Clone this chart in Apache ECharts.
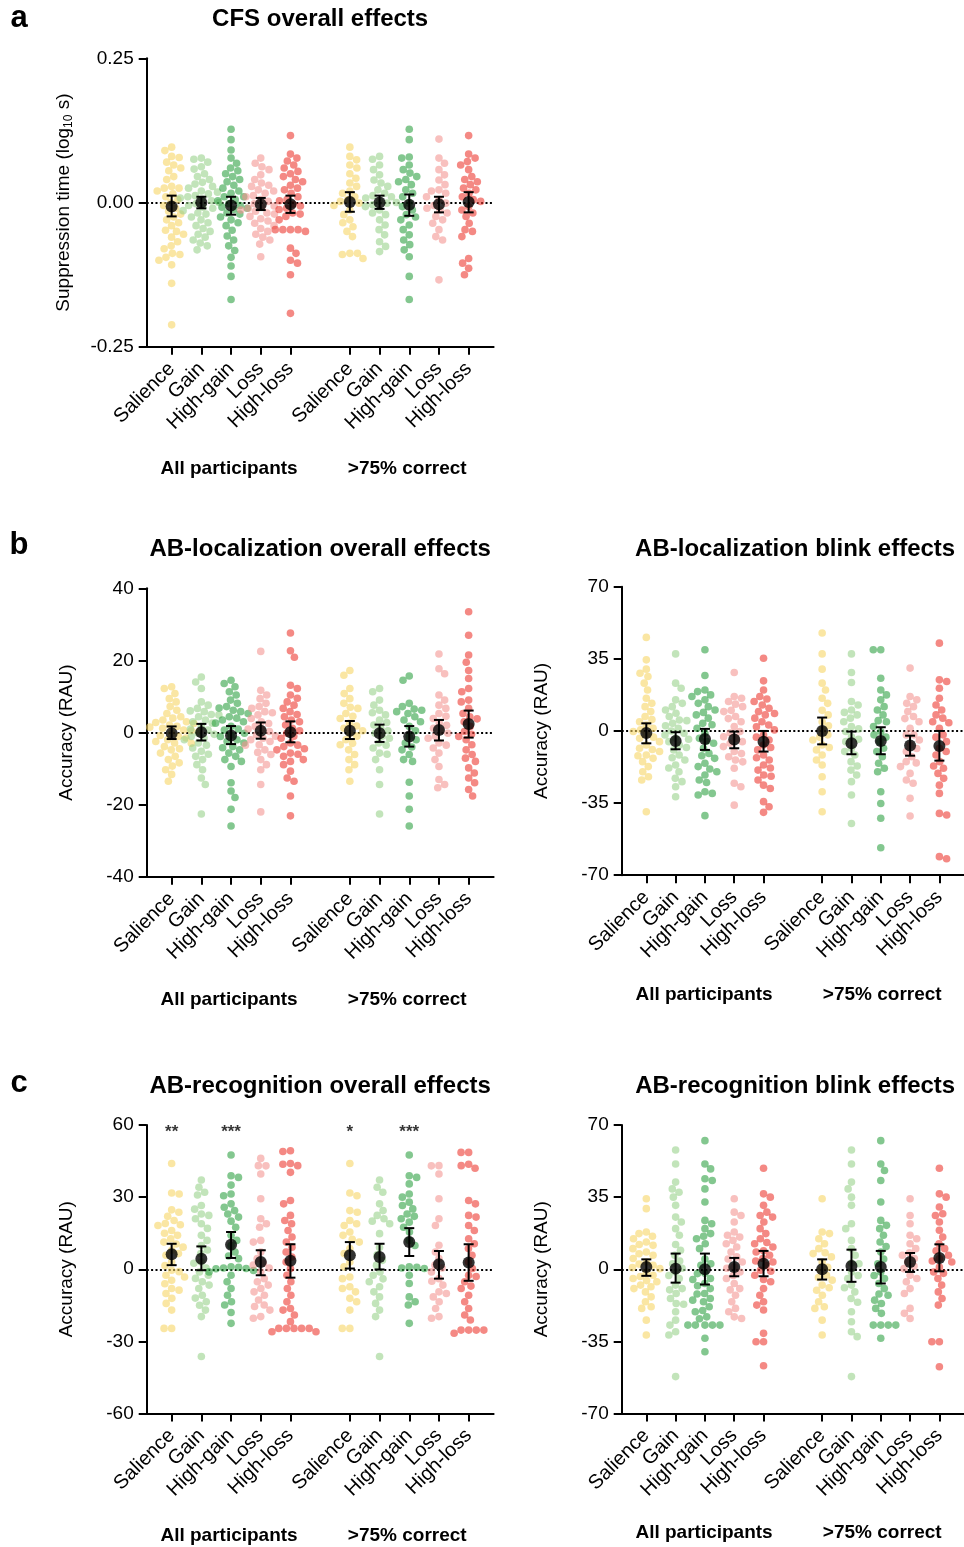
<!DOCTYPE html>
<html>
<head>
<meta charset="utf-8">
<script src="https://cdn.jsdelivr.net/npm/echarts@6/dist/echarts.min.js"></script>
<style>
html, body { margin: 0; padding: 0; background: #fff; }
#chart { width: 964px; height: 1547px; }
</style>
</head>
<body>
<div id="chart"></div>
<script>
// categories and groups
const categories = ['Salience', 'Gain', 'High-gain', 'Loss', 'High-loss'];
const groups = ['All participants', '>75% correct'];
const slots = [0, 1, 2, 3, 4, 6, 7, 8, 9, 10];

// a: CFS overall effects (log10 s)
const cfsPoints = [
  [0.096,0.09,0.08,0.078,0.07,0.065,0.06,0.055,0.045,0.04,0.028,0.025,0.025,0.02,0.015,0.01,0.005,0.0,-0.005,-0.01,-0.015,-0.02,-0.025,-0.03,-0.035,-0.04,-0.048,-0.05,-0.055,-0.06,-0.068,-0.075,-0.08,-0.088,-0.09,-0.095,-0.1,-0.108,-0.14,-0.212],
  [0.077,0.075,0.07,0.062,0.058,0.05,0.045,0.04,0.035,0.032,0.028,0.025,0.02,0.018,0.015,0.012,0.01,0.006,0.003,0.0,-0.002,-0.005,-0.008,-0.01,-0.014,-0.018,-0.02,-0.025,-0.03,-0.035,-0.04,-0.045,-0.05,-0.055,-0.06,-0.065,-0.07,-0.075,-0.082,0.008],
  [0.127,0.109,0.091,0.077,0.068,0.06,0.055,0.05,0.045,0.036,0.03,0.025,0.016,0.01,0.01,0.005,0.003,-0.002,-0.005,-0.01,-0.012,-0.018,-0.02,-0.025,-0.03,-0.035,-0.04,-0.048,-0.058,-0.065,-0.075,-0.083,-0.095,-0.11,-0.128,-0.168,0.02,-0.008,0.04],
  [0.077,0.068,0.062,0.057,0.048,0.04,0.034,0.028,0.022,0.02,0.016,0.01,0.005,0.002,-0.002,-0.006,-0.01,-0.013,-0.018,-0.02,-0.024,-0.028,-0.032,-0.036,-0.04,-0.045,-0.05,-0.055,-0.06,-0.065,-0.072,-0.094,0.03,0.012,-0.008,-0.015],
  [0.116,0.084,0.077,0.072,0.065,0.06,0.054,0.045,0.036,0.03,0.022,0.016,0.01,0.003,-0.003,-0.006,-0.012,-0.018,-0.024,-0.03,-0.047,-0.047,-0.047,-0.047,-0.05,-0.079,-0.088,-0.1,-0.105,-0.125,-0.192,0.04,0.025,0.005,-0.01,-0.02,0.05],
  [0.096,0.08,0.074,0.065,0.06,0.05,0.042,0.034,0.028,0.016,0.01,0.002,-0.001,-0.013,-0.021,-0.03,-0.042,-0.05,-0.059,-0.088,-0.088,-0.09,-0.097,0.02,0.005,-0.005,-0.035],
  [0.08,0.075,0.065,0.057,0.048,0.039,0.034,0.028,0.022,0.016,0.008,0.002,-0.001,-0.007,-0.013,-0.021,-0.03,-0.039,-0.047,-0.056,-0.068,-0.076,-0.085,0.01,0.0,-0.004,0.012,-0.018],
  [0.127,0.109,0.079,0.077,0.065,0.057,0.051,0.045,0.036,0.031,0.022,0.016,0.01,-0.001,-0.007,-0.013,-0.021,-0.03,-0.039,-0.047,-0.056,-0.065,-0.073,-0.082,-0.094,-0.128,-0.168,0.04,-0.025],
  [0.11,0.077,0.068,0.057,0.048,0.039,0.031,0.022,0.016,0.01,-0.001,-0.01,-0.013,-0.018,-0.024,-0.03,-0.036,-0.047,-0.059,-0.065,-0.134,0.005,-0.005,0.02],
  [0.116,0.084,0.077,0.071,0.065,0.057,0.045,0.036,0.031,0.022,0.016,0.01,0.002,-0.007,-0.013,-0.018,-0.024,-0.036,-0.047,-0.05,-0.059,-0.097,-0.105,-0.114,-0.125,0.04,0.025,0.005]
];
const cfsMean = [-0.007, 0.0, -0.005, -0.003, -0.003, 0.001, 0.0, -0.004, -0.003, 0.001];
const cfsLow = [-0.024, -0.01, -0.021, -0.013, -0.018, -0.016, -0.011, -0.023, -0.017, -0.017];
const cfsHigh = [0.012, 0.01, 0.01, 0.008, 0.012, 0.018, 0.012, 0.014, 0.01, 0.018];

// b left: AB-localization overall effects (RAU)
const locOverallPoints = [
  [12.7,12.2,10.8,9.4,8.5,7.2,6.2,5.3,4.4,4,3,2.5,2.1,1.7,1.2,0.7,0.3,-0.2,-1.1,-2,-2.9,-3.9,-4.8,-5.7,-6.6,-7.5,-8.4,-9.3,-10.3,-11.6,-13.5,3.5,1.5,0.5,-0.8,-1.5,-3,-4.5,2.8,-2.5],
  [15.4,14,12.2,8.5,7.6,6.7,5.8,4.9,4.4,3.5,2.6,1.7,0.7,-0.2,-1.1,-2,-2.9,-4.3,-5.2,-6.6,-7.5,-8.9,-10.3,-12.6,-14.4,-22.6,6,3,1,-0.5,-3.5,-6,5,-1.5],
  [14.5,13.6,12.7,11.3,10.4,9,8.1,7.2,6.2,5.3,4.4,3.5,2.6,1.7,0.7,-0.2,-1.1,-2,-2.9,-3.9,-4.8,-5.7,-6.6,-8,-9.4,-13.9,-16.2,-18,-21.3,-25.9,5.8,3,1,-0.7,-2.5,-4.2,-7.5,6.8,4],
  [22.5,11.7,10.4,9.4,8.1,6.7,5.8,4.9,3.9,3,1.7,0.3,-0.6,-1.6,-2.5,-3.4,-4.8,-6.1,-7.5,-8.9,-10.3,-14.4,-22,5.5,2.5,1,-1,-3.5,-5.5,7.2,0.8,-2],
  [27.6,22.7,20.9,13.1,12.2,10.4,8.5,7.6,6.7,5.8,4.4,3.5,2.1,1.2,-0.2,-1.6,-2.9,-3.9,-4.8,-5.7,-6.6,-8,-8.9,-10.7,-12.6,-13.5,-17.6,-23.1,5,3,0.5,-1,-3.5,-6,-7.5,9.5,-4.5],
  [17.2,15.9,12.2,10.8,9.4,8.1,6.7,5.3,3.9,2.6,1.2,-0.2,-2,-3.4,-4.8,-6.1,-7.5,-8.9,-10.3,-13.5,4.5,1.8,-1,-3,0.5,7],
  [12.2,11.3,9,7.6,6.2,4.9,3.5,2.1,1.2,-0.2,-1.6,-2.9,-4.3,-5.7,-7.5,-10.3,-14.4,-22.6,5.5,2.8,-1,-3.5,0.5,-6],
  [15.7,14.5,8.1,7.2,6.2,5.3,4.4,3.5,1.7,-1.1,-2.9,-4.8,-6.1,-7.5,-8,-13.8,-17.6,-21.3,-25.9,6.5,3,0.5,-2,-4,5.8],
  [21.8,17.7,16.3,10.4,9,7.6,6.7,5.3,3.9,2.6,1.2,-0.2,-1.6,-2.9,-4.3,-5.7,-7.5,-9.4,-13,-14.4,-15.3,4.5,2,-1,-3.5,0.5],
  [33.5,27,21.5,19.5,17.2,15,12.2,11.3,9,8.5,6.7,5.3,4.4,3,1.7,0.3,-1.1,-2,-3.4,-4.8,-6.1,-7.1,-8,-9.8,-11.2,-12.6,-13.9,-15.8,-17.6,3.8,-0.5]
];
const locOverallMean = [-0.2, 0.1, -0.8, 0.5, 0.1, 0.5, -0.2, -1.1, 0.7, 2.4];
const locOverallLow = [-1.8, -2.2, -3.2, -1.7, -2.7, -1.8, -2.6, -3.9, -2.2, -1.4];
const locOverallHigh = [1.7, 2.4, 1.8, 2.8, 3.1, 3.2, 2.2, 1.8, 3.5, 6.1];

// b right: AB-localization blink effects (RAU)
const locBlinkPoints = [
  [45.4,34.5,30,28,26.4,23.2,19.9,15.9,13.4,11.8,9.4,7,4.5,2.9,1.3,-0.3,-1.9,-3.6,-5.2,-6.8,-8.4,-10,-11.7,-13.3,-14.9,-17.3,-19.8,-22.2,-23.8,-39.2,5.5,0.5,-3,-9,-12],
  [37.4,23.2,20.7,15.1,13.4,11.8,10.2,8.6,7,5.3,3.7,1.3,-1.1,-3.6,-5.2,-6.8,-9.2,-11.7,-14.1,-16.5,-19.8,-23,-24.6,-27.1,-31.9,5,0,-4,-8,-13,-18,2.5,-2],
  [39.4,26.9,19.9,19.1,16.7,15.1,13.4,11.8,10.2,7.8,6.2,3.7,1.3,-1.1,-3.6,-6,-8.4,-10.9,-13.3,-15.7,-17.3,-19.8,-21.4,-23.8,-29.5,-30.3,-31.1,-41.1,17.5,9,3,-5,-12,-18.5,-25],
  [28.4,16.7,15.9,14.3,11.8,9.4,7,4.5,2.1,-0.3,-2.8,-5.2,-7.6,-10,-12.5,-14.1,-18.1,-25.4,-27.1,-36,13,6,-1,-6,-11,-15,10,-3.5],
  [35.3,24.3,19.9,16.7,14.3,12.6,11,9.4,7.8,6.2,4.5,2.9,0.5,-1.9,-4.4,-6.8,-9.2,-11.7,-14.1,-16.5,-19,-21.4,-23.8,-26.3,-27.9,-34.3,-36.8,-39.5,15.5,8.5,2,-3,-8,-13,-18,-22],
  [47.5,37.4,30,23.2,19.9,15.9,13.4,7.8,4.5,0.5,-1.9,-4.4,-6.8,-9.2,-11.7,-14.1,-16.5,-22.2,-29.5,-39.2,10,2.5,-3,-8],
  [37.4,28.4,23.5,14.3,12.6,10.2,7.8,6.2,4.5,2.1,-0.3,-2.8,-5.2,-8.4,-11.7,-14.9,-19,-21.4,-24.6,-31.1,-44.9,9,1,-4,-10,-17],
  [39.4,39.4,25.6,19.9,17.5,15.1,11.8,10.2,7.8,4.5,2.1,-0.3,-1.9,-5.2,-8.4,-12.5,-15.7,-18.1,-19.8,-29.5,-35.2,-42.4,-56.7,5,-3,-10],
  [30.5,16.7,15.1,13.4,11.8,9.4,7,4.5,1.3,-1.9,-4.4,-6.8,-10,-12.5,-14.9,-17.3,-20.6,-23.8,-25.4,-32.7,-41.3,6,-2,-8.5,-15.5],
  [42.6,24.8,24,20.7,15.9,12.6,10.2,7.8,6.2,4.5,1.3,-1.9,-5.2,-8.4,-11.7,-14.9,-18.1,-20.6,-23,-26.3,-30.3,-40,-40.8,-61,-62,4,-3,-10,-17]
];
const locBlinkMean = [-1.0, -4.9, -3.9, -4.2, -5.2, 0.0, -6.0, -4.9, -7.1, -7.3];
const locBlinkLow = [-6.0, -8.9, -9.2, -8.4, -10.0, -6.5, -11.3, -11.3, -12.0, -14.4];
const locBlinkHigh = [3.7, -0.6, 1.0, -0.3, 0.0, 6.5, -0.3, 1.8, -2.3, 0.0];

// c left: AB-recognition overall effects (RAU)
const recOverallPoints = [
  [44,31.7,31.3,24.7,23.7,20.3,18.5,18.2,16.1,14.1,12.7,11.3,9.2,7.9,5.8,3,-0.4,-2.5,-3.2,-4.6,-8,-8.7,-10.1,-12.1,-14.2,-17,-24.6,-24.6,19,15,10.5,6.5,1.5,-6,-1,22],
  [37.1,34.1,32,30.9,26.5,23,22.4,21,18.9,14.1,9.9,6.5,3,-1.1,-2.5,-5.2,-6.6,-8,-10.8,-13.5,-17,-19.7,-36.3,25,17,12,0.5,-3.8,-12,8,2.5,-15],
  [47.5,38.9,38.2,31.3,30.6,27.2,25.8,24.4,23,21.7,17.5,14.1,12,9.9,7.2,4.4,1,0.3,-1.1,-2.5,-5.2,-8,-10.8,-13.5,-14.9,-22.5,0.5,0.8,-0.5,35,20,5.5,-18,0.2],
  [46.1,43.1,39.6,29.3,21,18.9,17.5,11.3,7.2,4.4,1.7,-1.1,-3.9,-6.6,-8,-9.4,-10.8,-12.8,-14.9,-17,-19.7,-20.4,43,2.5,-5.2,-15.5,0.5,12],
  [49.3,49,43.7,43.1,40.3,28.6,27.2,22.4,20.3,18.9,16.1,13.4,11.3,9.2,7.2,5.1,3,0.3,-2.5,-5.2,-8,-10.8,-13.5,-16.3,-19,-21.8,-24.6,-24.6,-24.6,-24.6,-24.6,-26,-26,44,-17],
  [44,31.7,30.6,24.4,23.7,20.3,18.9,18.2,15.5,14.1,11.3,8.6,6.5,3,-3.2,-3.9,-7.3,-8,-9.4,-12.1,-13.5,-17,-24.6,-24.6,12.5,1],
  [37.1,34.1,32,27.2,24.4,22.4,21,18.9,14.8,3.7,1.7,-1.1,-2.5,-5.2,-7.3,-9.4,-11.5,-14.2,-17,-19.7,-36.3,9,6,-4,20],
  [47.5,38.9,38.2,35.5,31.3,27.9,26.5,25.1,23,21,19.6,17.5,15.5,12,9.9,1,0.5,0.3,0.8,-2.5,-5.9,-11.5,-13.5,-14.9,-22.5,30,22],
  [43.1,39.6,29.3,18.2,7.2,4.4,1.7,-1.1,-3.9,-6.6,-9.4,-10.1,-11.5,-13.5,-16.3,-19.7,-20.4,43,21,0.5,-5,10],
  [48.6,48.6,43.7,43.1,42,28.6,27.2,22.4,21.7,18.2,16.1,12.7,10.6,8.6,5.8,3,0.3,-2.5,-5.2,-8,-10.8,-13.5,-16.3,-19,-21.1,-25.3,-25.3,-25.3,-25.3,-26.6,-3,-7]
];
const recOverallMean = [6.2, 4.4, 10.2, 3.0, 3.5, 5.8, 5.1, 11.3, 2.1, 2.8];
const recOverallLow = [1.7, -0.4, 4.7, -2.5, -3.5, 0.3, -0.1, 5.5, -3.9, -4.8];
const recOverallHigh = [10.6, 9.5, 15.5, 7.9, 10.4, 11.3, 10.6, 17.1, 7.6, 10.4];
const recOverallStars = ['**', '', '***', '', '', '*', '', '***', '', ''];

// c right: AB-recognition blink effects (RAU)
const recBlinkPoints = [
  [34.2,29.4,18.1,17.3,14.8,13.2,11.6,10,8.4,6.8,5.2,3.5,1.9,0.3,-1.3,-2.9,-4.5,-6.1,-7.7,-9.4,-11,-13.4,-15.8,-18.2,-19,-24.7,-31.9,12,7.5,2.5,-3.5,-8.5,16,0.8,-5.5],
  [57.9,51.1,42.3,39,37.4,35,31,25.3,22.9,19.7,16.5,9.2,6.8,2.7,-1.3,-4.5,-7.7,-9.4,-11.8,-14.2,-16.6,-20.6,-24.7,-27.1,-30.3,-31.9,-52.1,12,4,-3,-10,-17,0.5],
  [62.4,51.1,48.7,43.9,43.1,39,32.6,23.7,22.1,19.7,17.3,14.8,12.4,10,2.7,1.9,-2.1,-4.5,-6.9,-9.4,-11.8,-14.2,-15.8,-18.2,-20.6,-23.1,-27.1,-27.1,-27.1,-27.1,-27.1,-33.5,-40,5,-2,-8,-15,16,-12,-20,-24,-5],
  [34.2,27.7,26.1,22.9,18.1,16.5,15.6,14,12.4,10.8,8.4,6,3.5,1.1,-1.3,-4.5,-6.9,-9.4,-12.6,-15.8,-19,-20.6,-23.1,-23.9,5,-3,-10,0.5],
  [49,36.6,35,31,27.7,26.1,25.3,22.9,19.7,17.3,14.8,12.4,10.8,8.4,6.8,5.2,3.5,1.9,-0.5,-2.9,-6.1,-9.4,-12.6,-15.8,-17.4,-19.8,-31.1,-35.2,-35.2,-46.8,9,4,-1,-5,13],
  [34.2,18.1,17.3,14.8,12.4,10,7.6,6,3.5,-0.5,-2.9,-5.3,-7.7,-10.2,-12.6,-15.8,-18.2,-19,-24.7,-31.9,8,1,-4,-9],
  [57.9,51.1,42.3,39,35,31,22.1,19.7,10,6.8,2.7,-1.3,-4.5,-7.7,-11,-14.2,-20.6,-25.5,-30.3,-32.7,-52.1,14,3,-3,-9,-16],
  [62.4,51.1,47.9,43.1,32.6,23.7,21.3,19.7,16.5,13.2,8.4,2.7,-1.3,-4.5,-6.9,-9.4,-12.6,-15,-16.6,-19,-21.4,-27.1,-27.1,-27.1,-27.1,-33.5,5,-3,-12,11],
  [34.2,26.1,22.1,16.5,14.8,12.4,10,6.8,5.2,3.5,0.3,-2.9,-6.1,-9.4,-11.8,-19,-21.4,-23.9,8,1.5,-4.5],
  [49,36.6,35,30.2,26.9,26.1,22.9,18.9,15.6,12.4,10,6.8,5.2,3.5,1.1,-1.3,-4.5,-7.7,-11,-14.2,-17.4,-35.2,-35.2,-47.3,9,4,-2]
];
const recBlinkMean = [1.1, 0.3, 0.0, 1.1, 2.7, 0.0, 1.6, 1.1, 3.5, 5.5];
const recBlinkLow = [-3.2, -6.5, -7.4, -3.4, -3.4, -5.0, -6.1, -6.9, -1.3, -1.0];
const recBlinkHigh = [4.8, 7.6, 7.6, 5.5, 8.9, 4.8, 9.5, 8.9, 7.9, 12.1];

// colours per category
const catColors = ['rgba(247,212,96,0.72)', 'rgba(150,208,136,0.72)', 'rgba(40,158,60,0.72)', 'rgba(243,146,143,0.72)', 'rgba(236,58,50,0.75)'];
const font = "'Liberation Sans', Arial, Helvetica, sans-serif";
const PX_PER_SLOT = 29.7;
const GRID_W = 346.9;
const GRID_H = 288.5;

const panels = [
  { title: 'CFS overall effects', points: cfsPoints, mean: cfsMean, low: cfsLow, high: cfsHigh,
    left: 146.7, top: 58.3, yMin: -0.25, yMax: 0.25, step: 0.25, digits: 2,
    yName: 'Suppression time (log{sub|10} s)', nameGap: 72, titleY: 19, groupY: 468 },
  { title: 'AB-localization overall effects', points: locOverallPoints, mean: locOverallMean, low: locOverallLow, high: locOverallHigh,
    left: 146.7, top: 588.3, yMin: -40, yMax: 40, step: 20, digits: 0,
    yName: 'Accuracy (RAU)', nameGap: 70, titleY: 549, groupY: 999 },
  { title: 'AB-localization blink effects', points: locBlinkPoints, mean: locBlinkMean, low: locBlinkLow, high: locBlinkHigh,
    left: 621.7, top: 586.7, yMin: -70, yMax: 70, step: 35, digits: 0,
    yName: 'Accuracy (RAU)', nameGap: 70, titleY: 549, groupY: 994 },
  { title: 'AB-recognition overall effects', points: recOverallPoints, mean: recOverallMean, low: recOverallLow, high: recOverallHigh,
    stars: recOverallStars, starY: 57,
    left: 146.7, top: 1125, yMin: -60, yMax: 60, step: 30, digits: 0,
    yName: 'Accuracy (RAU)', nameGap: 70, titleY: 1086, groupY: 1535 },
  { title: 'AB-recognition blink effects', points: recBlinkPoints, mean: recBlinkMean, low: recBlinkLow, high: recBlinkHigh,
    left: 621.7, top: 1125, yMin: -70, yMax: 70, step: 35, digits: 0,
    yName: 'Accuracy (RAU)', nameGap: 70, titleY: 1086, groupY: 1532 }
];

// simple beeswarm: horizontal pixel offsets so dots don't overlap
function swarm(values, pxPerY, diam) {
  const order = values.map((v, i) => i).sort((a, b) => values[b] - values[a]);
  const placed = [];
  const out = new Array(values.length);
  let flip = 1;
  order.forEach((i) => {
    const y = values[i] * pxPerY;
    const cands = [0];
    placed.forEach((p) => {
      const dy = Math.abs(p.y - y);
      if (dy < diam) {
        const dx = Math.sqrt(diam * diam - dy * dy);
        cands.push(p.x + dx, p.x - dx);
      }
    });
    cands.sort((a, b) => (Math.abs(a) - Math.abs(b)) || (flip * (b - a)));
    let x = 0;
    for (const c of cands) {
      if (placed.every((p) => (p.x - c) ** 2 + (p.y - y) ** 2 >= diam * diam - 0.01)) { x = c; break; }
    }
    flip = -flip;
    placed.push({ x, y });
    out[i] = x;
  });
  return out;
}

const axisColor = '#000';
const grids = [];
const xAxes = [];
const yAxes = [];
const series = [];
const graphics = [];

panels.forEach((p, pi) => {
  grids.push({ left: p.left, top: p.top, width: GRID_W, height: GRID_H });
  xAxes.push({
    gridIndex: pi, type: 'value', min: -0.84, max: 10.84,
    axisLine: { onZero: false, lineStyle: { color: axisColor, width: 2 } },
    axisTick: { customValues: slots, length: 8, lineStyle: { color: axisColor, width: 2 } },
    axisLabel: {
      customValues: slots, rotate: 45, margin: 19, fontSize: 20, color: '#000', fontFamily: font,
      formatter: (v) => categories[Math.round(v) % 6]
    },
    splitLine: { show: false }
  });
  yAxes.push({
    gridIndex: pi, type: 'value', min: p.yMin, max: p.yMax, interval: p.step,
    axisLine: { show: true, onZero: false, lineStyle: { color: axisColor, width: 2 } },
    axisTick: { show: true, length: 8, lineStyle: { color: axisColor, width: 2 } },
    axisLabel: {
      margin: 13, fontSize: 19, color: '#000', fontFamily: font,
      formatter: (v) => v.toFixed(p.digits)
    },
    splitLine: { show: false },
    name: p.yName, nameLocation: 'middle', nameGap: p.nameGap, nameRotate: 90,
    nameTextStyle: {
      fontSize: 19, color: '#000', fontFamily: font,
      rich: { sub: { fontSize: 12, color: '#000', fontFamily: font, verticalAlign: 'bottom', padding: [9, 0, 0, 0] } }
    }
  });

  const pxPerY = GRID_H / (p.yMax - p.yMin);
  p.points.forEach((vals, ci) => {
    const offs = swarm(vals, pxPerY, 7.6);
    const s = {
      type: 'scatter', xAxisIndex: pi, yAxisIndex: pi, silent: true,
      symbolSize: 7.6, z: 2,
      itemStyle: { color: catColors[ci % 5] },
      data: vals.map((v, k) => [slots[ci] + offs[k] / PX_PER_SLOT, v])
    };
    if (ci === 0) {
      s.markLine = {
        silent: true, symbol: 'none', z: 1, label: { show: false },
        lineStyle: { color: '#000', type: [2, 2.4], width: 2 },
        data: [{ yAxis: 0 }]
      };
    }
    series.push(s);
  });

  // error bars
  series.push({
    type: 'custom', xAxisIndex: pi, yAxisIndex: pi, silent: true, z: 4,
    data: slots.map((s, i) => [s, p.low[i], p.high[i]]),
    encode: { x: 0, y: [1, 2] },
    renderItem: (params, api) => {
      const x = api.value(0);
      const lo = api.coord([x, api.value(1)]);
      const hi = api.coord([x, api.value(2)]);
      const w = 5;
      const st = { stroke: '#000', lineWidth: 2 };
      return {
        type: 'group', children: [
          { type: 'line', shape: { x1: lo[0], y1: lo[1], x2: hi[0], y2: hi[1] }, style: st },
          { type: 'line', shape: { x1: lo[0] - w, y1: lo[1], x2: lo[0] + w, y2: lo[1] }, style: st },
          { type: 'line', shape: { x1: hi[0] - w, y1: hi[1], x2: hi[0] + w, y2: hi[1] }, style: st }
        ]
      };
    }
  });
  // means
  series.push({
    type: 'scatter', xAxisIndex: pi, yAxisIndex: pi, silent: true, z: 5,
    symbolSize: 12, itemStyle: { color: '#000' },
    data: slots.map((s, i) => [s, p.mean[i]])
  });
  // significance stars
  if (p.stars) {
    series.push({
      type: 'scatter', xAxisIndex: pi, yAxisIndex: pi, silent: true, z: 5,
      symbolSize: 0,
      label: { show: true, position: 'inside', formatter: (d) => d.name, fontSize: 17, fontWeight: 'bold', color: '#000', fontFamily: font },
      data: slots.map((s, i) => ({ name: p.stars[i], value: [s, p.starY] })).filter((d) => d.name)
    });
  }

  const cx = p.left + GRID_W / 2;
  graphics.push({
    type: 'text', x: cx, y: p.titleY,
    style: { text: p.title, fontSize: 24, fontWeight: 'bold', fontFamily: font, fill: '#000', align: 'center', verticalAlign: 'middle' }
  });
  const x0 = p.left + (0.84 + 2) * PX_PER_SLOT;
  const x1 = p.left + (0.84 + 8) * PX_PER_SLOT;
  [x0, x1].forEach((gx, gi) => {
    graphics.push({
      type: 'text', x: gx - 2, y: p.groupY + 1,
      style: { text: groups[gi], fontSize: 19, fontWeight: 'bold', fontFamily: font, fill: '#000', align: 'center', verticalAlign: 'middle' }
    });
  });
});

// panel letters
[['a', 19, 18], ['b', 19, 545], ['c', 19, 1083]].forEach(([t, x, y]) => {
  graphics.push({
    type: 'text', x, y,
    style: { text: t, fontSize: 31, fontWeight: 'bold', fontFamily: font, fill: '#000', align: 'center', verticalAlign: 'middle' }
  });
});

const chart = echarts.init(document.getElementById('chart'), null, { renderer: 'canvas' });
chart.setOption({
  animation: false,
  backgroundColor: '#fff',
  grid: grids,
  xAxis: xAxes,
  yAxis: yAxes,
  series,
  graphic: graphics
});
</script>
</body>
</html>
